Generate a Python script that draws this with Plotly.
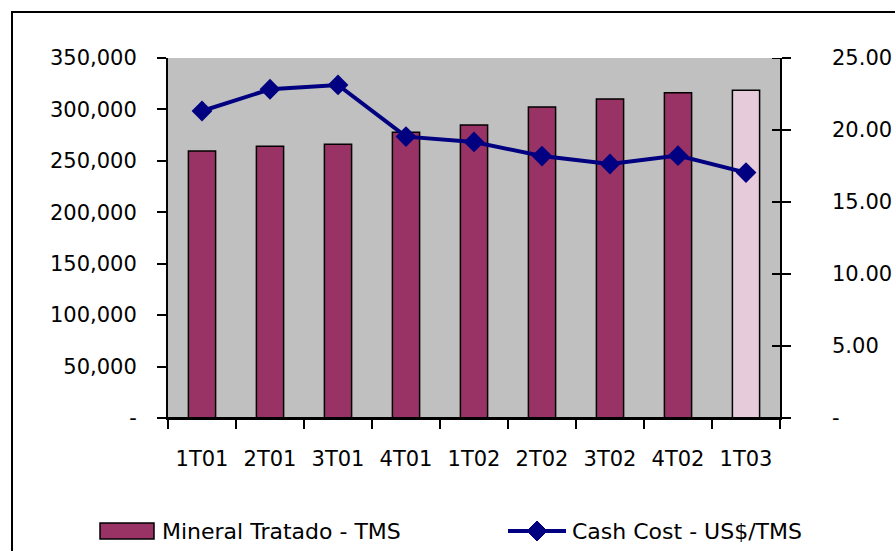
import plotly.graph_objects as go

categories = ["1T01", "2T01", "3T01", "4T01", "1T02", "2T02", "3T02", "4T02", "1T03"]
mineral_tratado = [259600, 264100, 266100, 277700, 284900, 302400, 310100, 316300, 318600]
cash_cost = [21.32, 22.83, 23.13, 19.54, 19.17, 18.19, 17.64, 18.22, 17.04]
bar_colors = ["#993366"] * 8 + ["#E6CCDA"]

left_ticks = [0, 50000, 100000, 150000, 200000, 250000, 300000, 350000]
left_labels = ["-", "50,000", "100,000", "150,000", "200,000", "250,000", "300,000", "350,000"]
right_ticks = [0, 5, 10, 15, 20, 25]
right_labels = ["-", "5.00", "10.00", "15.00", "20.00", "25.00"]
legend_names = ["Mineral Tratado - TMS", "Cash Cost - US$/TMS"]

FONT = "DejaVu Sans"
FS = 21
LFS = 22

# page body margin is removed below, so figure pixels == page pixels
OFF = 0
L, T = 168 - OFF, 58 - OFF
PW, PH = 612, 360
W, H = 895, 551


def px(x):
    return (x - OFF - L) / PW


def py(y):
    return (T + PH - (y - OFF)) / PH


fig = go.Figure()
fig.add_trace(go.Bar(
    x=categories, y=mineral_tratado, name=legend_names[0],
    marker=dict(color=bar_colors, line=dict(color="black", width=1.5)),
    yaxis="y", showlegend=False,
))
fig.add_trace(go.Scatter(
    x=categories, y=cash_cost, name=legend_names[1],
    mode="lines+markers",
    line=dict(color="#000080", width=4),
    marker=dict(symbol="diamond", size=16, color="#000080"),
    yaxis="y2", showlegend=False,
))

cx, cy, d = 537, 531, 10
diamond_path = "M {} {} L {} {} L {} {} L {} {} Z".format(
    px(cx), py(cy - d), px(cx + d), py(cy), px(cx), py(cy + d), px(cx - d), py(cy))

shapes = [
    # outer chart frame
    dict(type="rect", xref="paper", yref="paper",
         x0=px(12), x1=px(905), y0=py(560), y1=py(12),
         line=dict(color="black", width=2), fillcolor="rgba(0,0,0,0)", layer="below"),
    # category axis line extension
    dict(type="line", xref="paper", yref="paper",
         x0=px(157), x1=px(789), y0=0, y1=0,
         line=dict(color="black", width=2)),
    # legend: bar swatch
    dict(type="rect", xref="paper", yref="paper",
         x0=px(100), x1=px(154), y0=py(539), y1=py(523),
         line=dict(color="black", width=1.5), fillcolor="#993366"),
    # legend: line swatch
    dict(type="line", xref="paper", yref="paper",
         x0=px(508), x1=px(566), y0=py(531), y1=py(531),
         line=dict(color="#000080", width=4)),
    # legend: diamond marker
    dict(type="path", xref="paper", yref="paper", path=diamond_path,
         fillcolor="#000080", line=dict(color="#000080", width=1)),
]
# right axis ticks cross the axis line: inner halves
for v in right_ticks:
    shapes.append(dict(type="line", xref="paper", yref="y2",
                       x0=px(772), x1=1, y0=v, y1=v,
                       line=dict(color="black", width=2)))

annotations = [
    dict(text=legend_names[0], xref="paper", yref="paper", x=px(160), y=py(531),
         xanchor="left", yanchor="middle", showarrow=False,
         font=dict(family=FONT, size=LFS)),
    dict(text=legend_names[1], xref="paper", yref="paper", x=px(570), y=py(531),
         xanchor="left", yanchor="middle", showarrow=False,
         font=dict(family=FONT, size=LFS)),
]
# right axis tick labels
for v, lab in zip(right_ticks, right_labels):
    annotations.append(dict(text=lab, xref="paper", yref="y2", x=px(830), y=v,
                            xanchor="left", yanchor="middle", showarrow=False,
                            font=dict(family=FONT, size=FS)))

fig.update_layout(
    width=W, height=H,
    margin=dict(l=L, r=W - L - PW, t=T, b=H - T - PH),
    paper_bgcolor="white",
    plot_bgcolor="#C0C0C0",
    font=dict(family=FONT, size=FS, color="black"),
    bargap=0.6,
    showlegend=False,
    xaxis=dict(
        range=[-0.5, len(categories) - 0.5],
        showline=True, linecolor="black", linewidth=2,
        ticks="outside", ticklen=9, tickcolor="black", tickwidth=2,
        showgrid=False, ticklabelstandoff=21,
        tickson="boundaries",
    ),
    yaxis=dict(
        range=[0, 350000], tickvals=left_ticks, ticktext=left_labels,
        showline=True, linecolor="black", linewidth=2,
        ticks="outside", ticklen=9, tickcolor="black", tickwidth=2,
        showgrid=False, zeroline=False, ticklabelstandoff=16,
    ),
    yaxis2=dict(
        range=[0, 25], tickvals=right_ticks,
        overlaying="y", side="right",
        showline=True, linecolor="black", linewidth=2,
        ticks="outside", ticklen=9, tickcolor="black", tickwidth=2,
        showticklabels=False,
        showgrid=False, zeroline=False,
    ),
    shapes=shapes,
    annotations=annotations,
)

fig.write_html(
    "out.html",
    config={"displayModeBar": False},
    post_script=(
        "document.body.style.margin='0';"
        "document.body.style.overflow='hidden';"
        "document.documentElement.style.overflow='hidden';"
    ),
)
